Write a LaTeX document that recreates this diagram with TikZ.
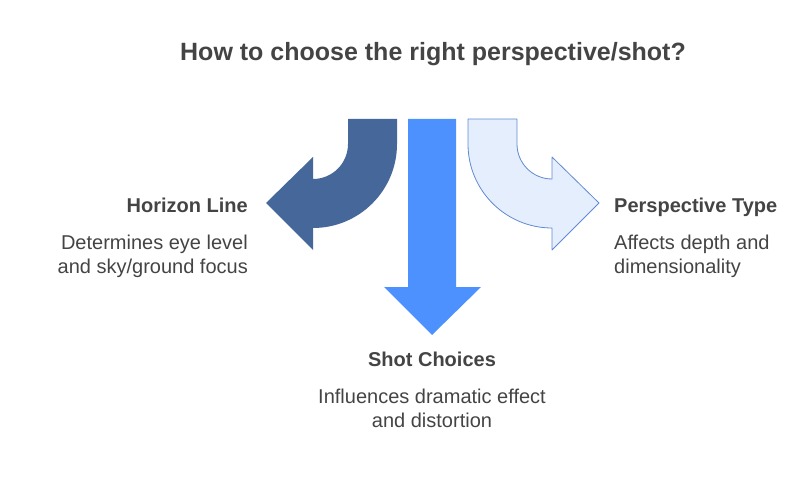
\documentclass[tikz,border=0pt]{standalone}
\usepackage{fontspec}
\setmainfont{Liberation Sans}
\usepackage{tikz}
\usetikzlibrary{positioning, calc}
\definecolor{shotdark}{RGB}{69,103,154}
\definecolor{shotblue}{RGB}{77,145,254}
\definecolor{shotpale}{RGB}{228,238,253}
\definecolor{shotedge}{RGB}{98,138,210}
\definecolor{shottext}{RGB}{68,68,68}

\begin{document}
\begin{tikzpicture}[
    x=1pt, y=-1pt,
    title/.style={font=\fontsize{25}{30}\selectfont\bfseries, text=shottext, inner sep=0pt},
    head/.style={font=\fontsize{20}{24}\selectfont\bfseries, text=shottext, inner sep=0pt},
    body/.style={font=\fontsize{20}{24}\selectfont, text=shottext, inner sep=0pt},
    darkarrow/.style={fill=shotdark},
    bluearrow/.style={fill=shotblue},
    palearrow/.style={fill=shotpale, draw=shotedge, line width=0.8pt, line join=round}
]
\useasboundingbox (0,0) rectangle (805,481);

% Title
\node[title, anchor=base] (ttl) at (433,61) {How to choose the right perspective/shot?};

% Left: curved arrow to the horizon line
\path[darkarrow] (348,119) -- (397,119) -- (397,144)
    arc[start angle=0, end angle=-90, radius=84pt] -- (313,250) -- (266,203)
    -- (313,157) -- (313,179) arc[start angle=-90, end angle=0, radius=35pt] -- cycle;

% Middle: straight arrow down to the shot choices
\path[bluearrow] (408,119) -- (456,119) -- (456,287) -- (481,287) -- (432,335)
    -- (384,287) -- (408,287) -- cycle;

% Right: curved arrow to the perspective type
\path[palearrow] (468,119) -- (517,119) -- (517,144)
    arc[start angle=180, end angle=270, radius=35pt] -- (552,157) -- (599,203)
    -- (552,250) -- (552,228) arc[start angle=270, end angle=180, radius=84pt] -- cycle;

% Labels (base of a two-line text is its last line)
\node[head, anchor=base east] (hzn) at (248,212) {Horizon Line};
\node[body, anchor=base east, align=right] (hznd) at (248,273) {Determines eye level\\and sky/ground focus};

\node[head, anchor=base west] (psp) at (614,212) {Perspective Type};
\node[body, anchor=base west, align=left] (pspd) at (614,273) {Affects depth and\\dimensionality};

\node[head, anchor=base] (sht) at (432,366) {Shot Choices};
\node[body, anchor=base, align=center] (shtd) at (432,427) {Influences dramatic effect\\and distortion};

\end{tikzpicture}
\end{document}
